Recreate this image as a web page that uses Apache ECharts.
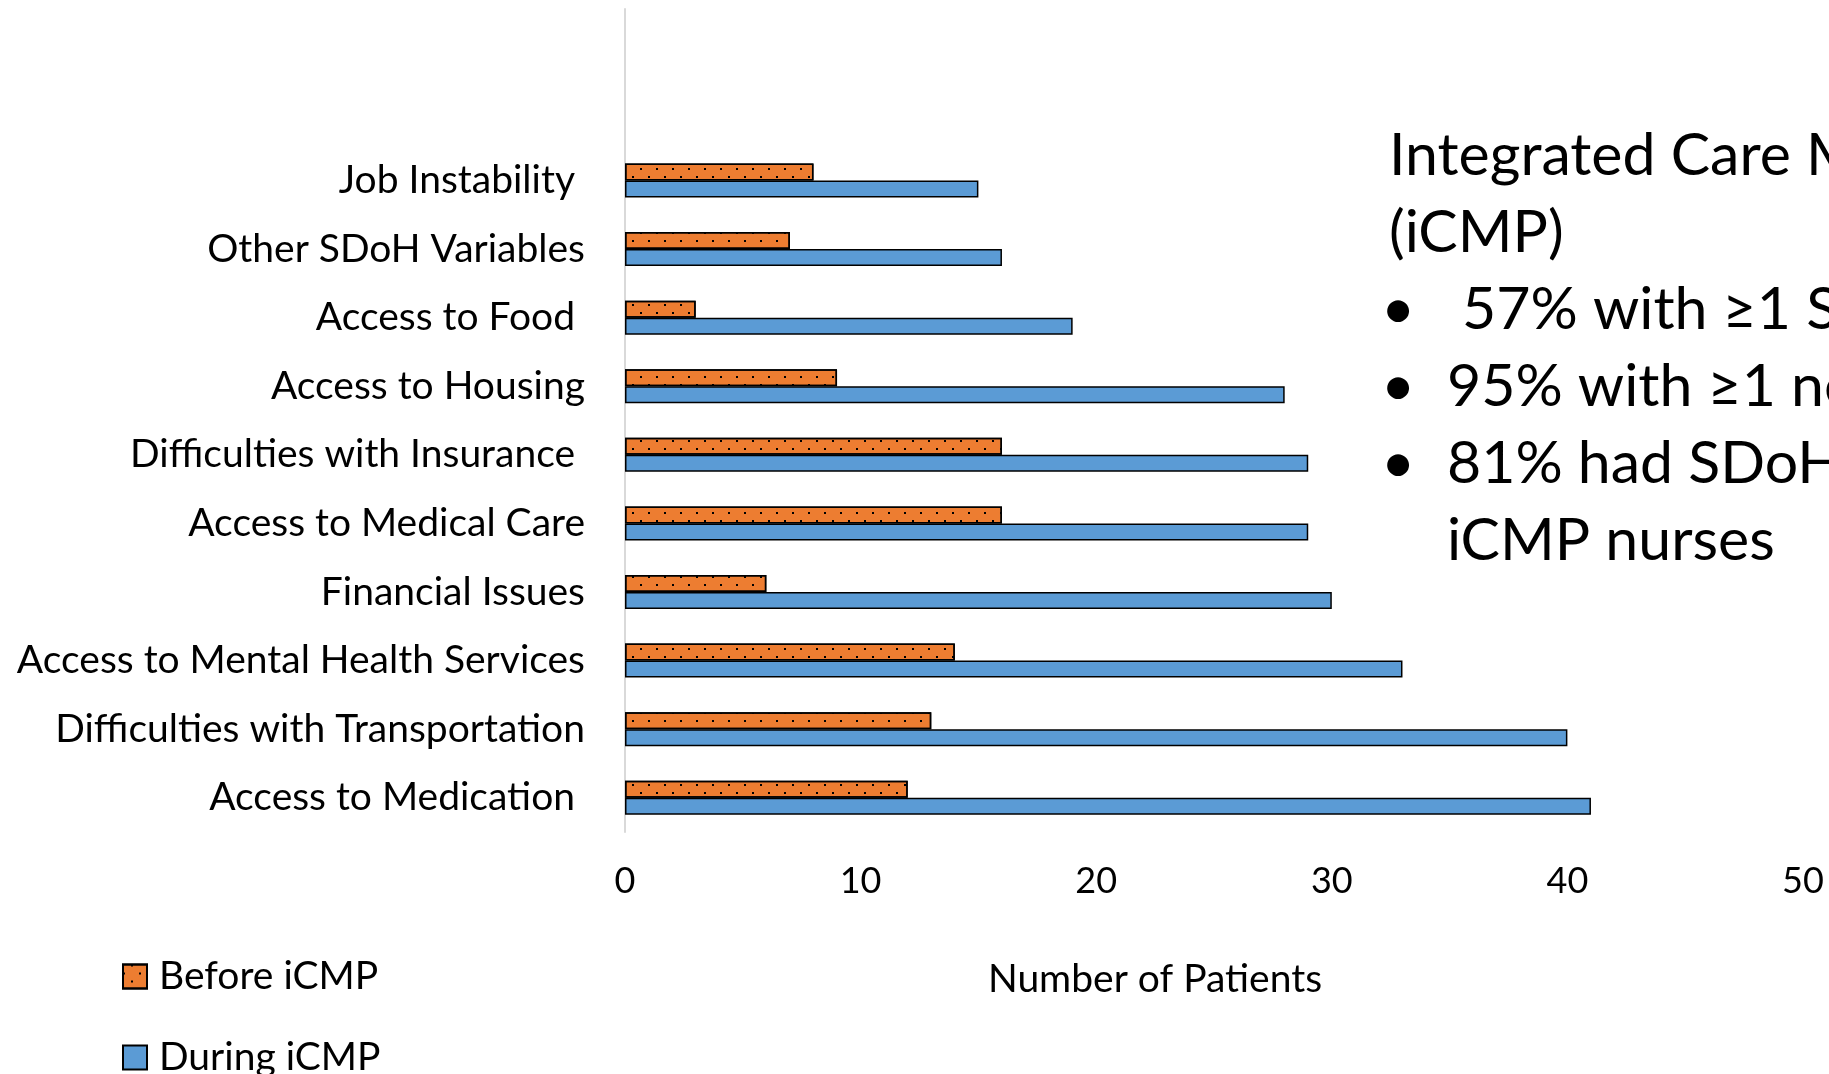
<!DOCTYPE html>
<html>
<head>
<meta charset="utf-8">
<title>SDoH needs: before vs during iCMP</title>
<script src="https://cdn.jsdelivr.net/npm/echarts@6/dist/echarts.min.js"></script>
<style>
  html, body { margin: 0; padding: 0; background: #ffffff; }
  #chart { width: 1829px; height: 1074px; }
</style>
</head>
<body>
<div id="chart"></div>
<script>
// Social determinants of health (bottom to top on the axis).
// Trailing spaces are kept as they appear in the source labels.
const categories = [
  'Access to Medication ',
  'Difficulties with Transportation',
  'Access to Mental Health Services',
  'Financial Issues',
  'Access to Medical Care',
  'Difficulties with Insurance ',
  'Access to Housing',
  'Access to Food ',
  'Other SDoH Variables',
  'Job Instability '
];
// Two empty slots above the last category leave room at the top of the plot.
const paddingSlots = ['', ''];

const beforeICMP = [12, 13, 14, 6, 16, 16, 9, 3, 7, 8];
const duringICMP = [41, 40, 33, 30, 29, 29, 28, 19, 16, 15];

const seriesNames = ['Before iCMP', 'During iCMP'];
const xTicks = { min: 0, max: 50, interval: 10 };
const xAxisTitle = 'Number of Patients';

const noteTitle = ['Integrated Care Management Program', '(iCMP)'];
const noteBullets = [
  ' 57% with \u22651 SDoH need',
  '95% with \u22651 need addressed',
  '81% had SDoH needs addressed by'
];
const noteTail = 'iCMP nurses';

const FONT = 'Lato, "Open Sans", sans-serif';
const ORANGE = '#ED7D31';
const BLUE = '#5B9BD5';

const chart = echarts.init(document.getElementById('chart'), null, { renderer: 'canvas' });

const noteSize = 59;
const noteX = 1389;
const bulletX = 1381;
const bodyX = 1447;
const lineStep = 77;
const firstLineY = 156;

const noteGraphics = [];
function noteText(x, y, text) {
  return {
    type: 'text', x: x, y: y,
    style: { text: text, font: noteSize + 'px ' + FONT, fill: '#000', verticalAlign: 'middle', align: 'left' }
  };
}
noteTitle.forEach((t, i) => noteGraphics.push(noteText(noteX, firstLineY + i * lineStep, t)));
noteBullets.forEach((t, i) => {
  const y = firstLineY + (i + 2) * lineStep;
  noteGraphics.push(noteText(bulletX, y, '\u2022'));
  noteGraphics.push(noteText(bodyX, y, t));
});
noteGraphics.push(noteText(bodyX, firstLineY + 5 * lineStep, noteTail));

const dotDecal = {
  symbol: 'rect',
  symbolSize: 1,
  color: '#000000',
  dashArrayX: [[2, 14], [0, 8, 2, 6]],
  dashArrayY: [2, 6]
};

// One legend block per series, stacked vertically in the lower-left corner.
const legendTops = [952, 1033];
const legends = seriesNames.map((name, i) => ({
  data: [name],
  orient: 'vertical',
  left: 117,
  top: legendTops[i],
  itemWidth: 24,
  itemHeight: 24,
  icon: 'rect',
  textStyle: { fontSize: 39, color: '#000', fontFamily: FONT, padding: [0, 0, 0, 7] }
}));

chart.setOption({
  backgroundColor: '#ffffff',
  animation: false,
  textStyle: { fontFamily: FONT },
  grid: { left: 625, right: 26, top: 9, bottom: 242, containLabel: false },
  legend: legends,
  xAxis: {
    type: 'value',
    min: xTicks.min,
    max: xTicks.max,
    interval: xTicks.interval,
    name: xAxisTitle,
    nameLocation: 'middle',
    nameGap: 128,
    nameTextStyle: { fontSize: 39, color: '#000', fontFamily: FONT, padding: [0, 118, 0, 0] },
    axisLine: { show: false },
    axisTick: { show: false },
    splitLine: { show: false },
    axisLabel: { fontSize: 36, color: '#000', margin: 31, fontFamily: FONT }
  },
  yAxis: {
    type: 'category',
    data: categories.concat(paddingSlots),
    axisLine: { show: true, lineStyle: { color: '#D9D9D9', width: 2 } },
    axisTick: { show: false },
    splitLine: { show: false },
    axisLabel: { fontSize: 39, color: '#000', margin: 40, fontFamily: FONT }
  },
  series: [
    {
      name: seriesNames[0],
      type: 'bar',
      data: beforeICMP,
      barWidth: 17,
      barGap: '0%',
      itemStyle: { color: ORANGE, borderColor: '#000', borderWidth: 1.5, decal: dotDecal }
    },
    {
      name: seriesNames[1],
      type: 'bar',
      data: duringICMP,
      barWidth: 17,
      barGap: '0%',
      itemStyle: { color: BLUE, borderColor: '#000', borderWidth: 1.5 }
    }
  ],
  graphic: noteGraphics
});
</script>
</body>
</html>
